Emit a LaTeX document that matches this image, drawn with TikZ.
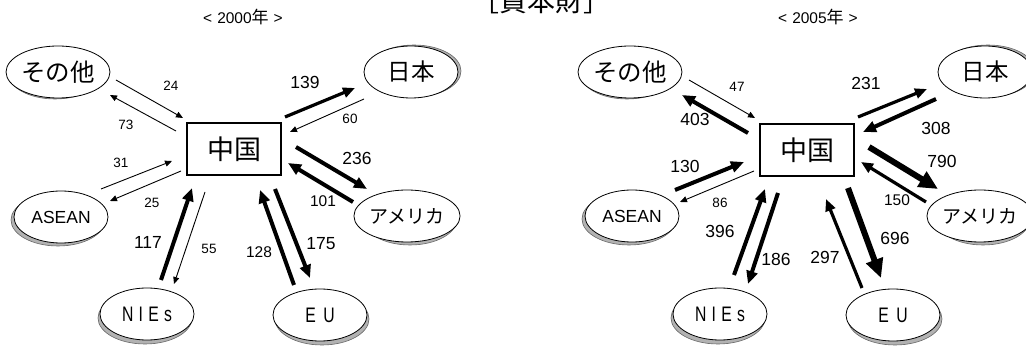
\documentclass[tikz,border=0pt]{standalone}
\usepackage{fontspec}
\setmainfont{Liberation Sans}
\newfontfamily\jp{Noto Sans CJK JP}
\usetikzlibrary{arrows.meta,shapes.geometric}
\newcommand\ctry[6]{%
  \node[shadowel] (#1s) at (#2+#4,#3+#5) {};
  \node[country] (#1) at (#2,#3) {#6};}
\newcommand\arr[6]{%
  \coordinate (#1a) at (#3,#4);
  \coordinate (#1b) at (#5,#6);
  \draw[#2] (#1a) -- (#1b);}
\newcommand\narrowtxt[1]{\scalebox{0.75}[1]{\fontsize{21}{24}\selectfont #1}}
\newcommand\yeartxt[1]{<\hspace{5pt}#1{\jp\fontsize{17}{18}\selectfont 年}\hspace{5pt}>}
\begin{document}
\begin{tikzpicture}[x=1pt,y=-1pt,
 country/.style={ellipse,draw,fill=white,line width=0.8pt,minimum width=94pt,minimum height=52pt,inner sep=0pt},
 shadowel/.style={ellipse,fill=gray!60,draw=gray!80!black,line width=0.6pt,minimum width=94pt,minimum height=52pt,inner sep=0pt},
 china/.style={draw,line width=1.3pt,minimum width=94pt,minimum height=52pt,fill=white,inner sep=0pt,font=\jp\fontsize{27}{30}\selectfont},
 fthin/.style={line width=0.9pt,-{Triangle[length=7pt,width=6pt]}},
 fmid/.style={line width=3.2pt,-{Triangle[length=12pt,width=10pt]}},
 fthick/.style={line width=4pt,-{Triangle[length=13pt,width=11pt]}},
 fheavy/.style={line width=6pt,-{Triangle[length=19pt,width=17pt]}},
 lsmall/.style={font=\fontsize{13.5}{15}\selectfont,inner sep=0pt},
 lmid/.style={font=\fontsize{15.5}{18}\selectfont,inner sep=0pt},
 lbig/.style={font=\fontsize{17.5}{20}\selectfont,inner sep=0pt},
 yearlab/.style={font=\fontsize{15.5}{17}\selectfont,inner sep=0pt},
]
\useasboundingbox (0,0) rectangle (1026,347);

% title
\node[anchor=base,font=\jp\fontsize{28}{30}\selectfont,inner sep=0pt] (title) at (541,12) {［資本財］};
\node[yearlab] (y2000) at (243,17) {\yeartxt{2000}};
\node[yearlab] (y2005) at (818,17) {\yeartxt{2005}};

% ===== 2000 =====
\ctry{Lsono}{58}{72}{-3}{1}{\jp\fontsize{24.5}{26}\selectfont その他}
\ctry{Lnip}{411}{72}{3}{-1}{\jp\fontsize{23.5}{26}\selectfont 日本}
\ctry{Lase}{61}{217}{-3}{3}{\fontsize{17.5}{20}\selectfont ASEAN}
\ctry{Lame}{407}{216}{3}{3}{\jp\fontsize{19}{22}\selectfont アメリカ}
\ctry{Lnie}{147}{314}{-2}{4}{\narrowtxt{N\hspace{7pt}I\hspace{7pt}E\hspace{7pt}s}}
\ctry{Leu}{320}{315}{2}{4}{\narrowtxt{E\hspace{10pt}U}}
\node[china] (Lchn) at (234,149) {中国};

\arr{La}{fthin}{116}{80}{183}{118}
\arr{Lb}{fthin}{176}{131}{110}{95}
\arr{Lc}{fmid}{285}{117}{355}{88}
\arr{Ld}{fthin}{364}{99}{290}{132}
\arr{Le}{fthick}{296}{147}{367}{189}
\arr{Lf}{fthick}{353}{202}{288}{163}
\arr{Lg}{fthin}{101}{189}{172}{161}
\arr{Lh}{fthin}{181}{171}{110}{201}
\arr{Li}{fthick}{161}{280}{192}{188}
\arr{Lj}{fthin}{205}{192}{174}{284}
\arr{Lk}{fthick}{294}{285}{260}{190}
\arr{Ll}{fthick}{275}{189}{310}{278}

\node[lsmall] (nLa) at (171,86) {24};
\node[lsmall] (nLb) at (126,125) {73};
\node[lbig] (nLc) at (305,82) {139};
\node[lsmall] (nLd) at (350,119) {60};
\node[lbig] (nLe) at (357,158) {236};
\node[lmid] (nLf) at (323,201) {101};
\node[lsmall] (nLg) at (121,163) {31};
\node[lsmall] (nLh) at (152,203) {25};
\node[lbig] (nLi) at (148,242) {117};
\node[lsmall] (nLj) at (209,249) {55};
\node[lmid] (nLk) at (259,252) {128};
\node[lbig] (nLl) at (321,244) {175};

% ===== 2005 =====
\ctry{Rsono}{630}{72}{-3}{1}{\jp\fontsize{24.5}{26}\selectfont その他}
\ctry{Rnip}{985}{72}{3}{-1}{\jp\fontsize{23.5}{26}\selectfont 日本}
\ctry{Rase}{632}{216}{-3}{3}{\fontsize{17.5}{20}\selectfont ASEAN}
\ctry{Rame}{980}{216}{3}{3}{\jp\fontsize{19}{22}\selectfont アメリカ}
\ctry{Rnie}{720}{314}{-2}{4}{\narrowtxt{N\hspace{7pt}I\hspace{7pt}E\hspace{7pt}s}}
\ctry{Reu}{893}{315}{2}{4}{\narrowtxt{E\hspace{10pt}U}}
\node[china] (Rchn) at (807,150) {中国};

\arr{Ra}{fthin}{689}{80}{755}{118}
\arr{Rb}{fthick}{748}{133}{682}{95}
\arr{Rc}{fmid}{858}{117}{927}{89}
\arr{Rd}{fthick}{936}{99}{863}{132}
\arr{Re}{fheavy}{869}{147}{938}{189}
\arr{Rf}{fmid}{926}{202}{861}{162}
\arr{Rg}{fthick}{675}{190}{744}{162}
\arr{Rh}{fthin}{754}{171}{680}{202}
\arr{Ri}{fthick}{734}{275}{765}{189}
\arr{Rj}{fthick}{778}{193}{748}{284}
\arr{Rk}{fmid}{862}{288}{826}{199}
\arr{Rl}{fheavy}{848}{188}{881}{278}

\node[lsmall] (nRa) at (737,87) {47};
\node[lbig] (nRb) at (695,119) {403};
\node[lbig] (nRc) at (866,83) {231};
\node[lbig] (nRd) at (936,128) {308};
\node[lbig] (nRe) at (942,161) {790};
\node[lmid] (nRf) at (897,200) {150};
\node[lbig] (nRg) at (685,166) {130};
\node[lsmall] (nRh) at (720,203) {86};
\node[lbig] (nRi) at (720,231) {396};
\node[lbig] (nRj) at (776,259) {186};
\node[lbig] (nRk) at (825,257) {297};
\node[lbig] (nRl) at (895,238) {696};
\end{tikzpicture}
\end{document}
